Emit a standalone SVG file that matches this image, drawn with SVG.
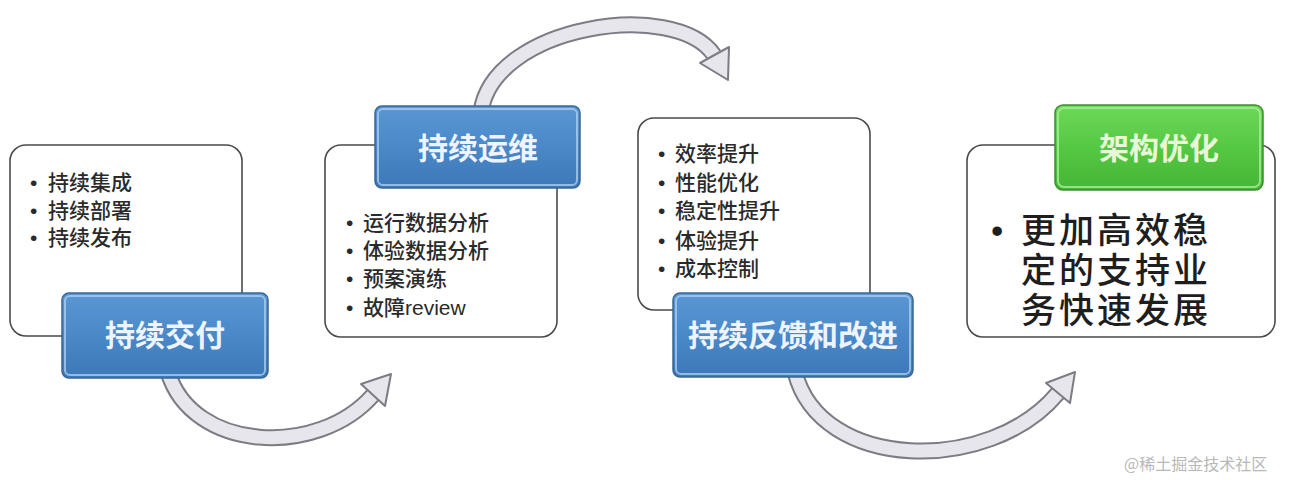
<svg xmlns="http://www.w3.org/2000/svg" width="1292" height="480" viewBox="0 0 1292 480">
  <defs>
    <linearGradient id="blueG" x1="0" y1="0" x2="0" y2="1">
      <stop offset="0" stop-color="#5a97d3"/>
      <stop offset="0.5" stop-color="#4a88c8"/>
      <stop offset="1" stop-color="#3d78b8"/>
    </linearGradient>
    <linearGradient id="greenG" x1="0" y1="0" x2="0" y2="1">
      <stop offset="0" stop-color="#6fd85a"/>
      <stop offset="0.5" stop-color="#55c843"/>
      <stop offset="1" stop-color="#45b535"/>
    </linearGradient>
  </defs>
  <style>
    .card { fill: #ffffff; stroke: #4a4a4a; stroke-width: 1.6; }
    .blue { fill: url(#blueG); stroke: #3a6795; stroke-width: 1.5; }
    .blueIn { fill: none; stroke: #a9cdf0; stroke-width: 2; opacity: 0.8; }
    .green { fill: url(#greenG); stroke: #3e8f30; stroke-width: 1.5; }
    .greenIn { fill: none; stroke: #a8ee98; stroke-width: 2; opacity: 0.8; }
    .head { font-family: "Noto Sans CJK SC", "Liberation Sans", sans-serif; font-size: 30px; font-weight: bold; fill: #eef4ff; text-anchor: middle; }
    .headG { font-family: "Noto Sans CJK SC", "Liberation Sans", sans-serif; font-size: 30px; font-weight: bold; fill: #e6f8d8; text-anchor: middle; }
    .item { font-family: "Liberation Sans", "Noto Sans CJK SC", sans-serif; font-size: 21px; font-weight: 500; fill: #2a2a2a; }
    .big { font-family: "Liberation Sans", "Noto Sans CJK SC", sans-serif; font-size: 35px; letter-spacing: 3px; font-weight: 500; fill: #1e1e1e; }
    .band-o { fill: none; stroke: #7c7c84; stroke-width: 17; }
    .band-i { fill: none; stroke: #e6e6ec; stroke-width: 13; }
    .head-a { fill: #e6e6ec; stroke: #7c7c84; stroke-width: 2; stroke-linejoin: round; }
    .wm { font-family: "Noto Sans CJK SC", "Liberation Sans", sans-serif; font-size: 16px; fill: #b8b8b8; }
  </style>

  <g id="connectors">
    <g id="arrow1">
      <path class="band-o" d="M168,372 C192,452 318,458 373,395"/>
      <path class="band-i" d="M168,372 C192,452 318,458 373,395"/>
      <polygon class="head-a" points="361,384 391,374 385,406"/>
    </g>
    <g id="arrow2">
      <path class="band-o" d="M481,112 C493,25 675,-2 714,55"/>
      <path class="band-i" d="M481,112 C493,25 675,-2 714,55"/>
      <polygon class="head-a" points="700,63 729,47 728,80"/>
    </g>
    <g id="arrow3">
      <path class="band-o" d="M795,372 C820,472 990,475 1058,393"/>
      <path class="band-i" d="M795,372 C820,472 990,475 1058,393"/>
      <polygon class="head-a" points="1046,383 1075,372 1070,403"/>
    </g>
  </g>

  <g id="node-delivery">
    <rect class="card" x="10" y="145" width="232" height="191" rx="16"/>
    <text class="item"><tspan x="30" y="190">•</tspan><tspan x="48" y="190">持续集成</tspan><tspan x="30" y="218">•</tspan><tspan x="48" y="218">持续部署</tspan><tspan x="30" y="245">•</tspan><tspan x="48" y="245">持续发布</tspan></text>
    <rect class="blue" x="62" y="293" width="206" height="85" rx="7"/>
    <rect class="blueIn" x="65" y="296" width="200" height="79" rx="5"/>
    <text class="head" x="165" y="346">持续交付</text>
  </g>

  <g id="node-ops">
    <rect class="card" x="325" y="145" width="232" height="192" rx="16"/>
    <rect class="blue" x="375" y="106" width="205" height="82" rx="7"/>
    <rect class="blueIn" x="378" y="109" width="199" height="76" rx="5"/>
    <text class="head" x="478" y="159">持续运维</text>
    <text class="item"><tspan x="346" y="230">•</tspan><tspan x="363" y="230">运行数据分析</tspan><tspan x="346" y="258">•</tspan><tspan x="363" y="258">体验数据分析</tspan><tspan x="346" y="286">•</tspan><tspan x="363" y="286">预案演练</tspan><tspan x="346" y="315">•</tspan><tspan x="363" y="315">故障review</tspan></text>
  </g>

  <g id="node-feedback">
    <rect class="card" x="638" y="118" width="232" height="192" rx="16"/>
    <text class="item"><tspan x="658" y="161">•</tspan><tspan x="675" y="161">效率提升</tspan><tspan x="658" y="190">•</tspan><tspan x="675" y="190">性能优化</tspan><tspan x="658" y="218">•</tspan><tspan x="675" y="218">稳定性提升</tspan><tspan x="658" y="248">•</tspan><tspan x="675" y="248">体验提升</tspan><tspan x="658" y="276">•</tspan><tspan x="675" y="276">成本控制</tspan></text>
    <rect class="blue" x="673" y="293" width="240" height="84" rx="7"/>
    <rect class="blueIn" x="676" y="296" width="234" height="78" rx="5"/>
    <text class="head" x="793" y="346">持续反馈和改进</text>
  </g>

  <g id="node-arch">
    <rect class="card" x="967" y="145" width="308" height="192" rx="16"/>
    <rect class="green" x="1055" y="105" width="208" height="85" rx="8"/>
    <rect class="greenIn" x="1058" y="108" width="202" height="79" rx="6"/>
    <text class="headG" x="1159" y="159">架构优化</text>
    <text class="big"><tspan x="991" y="243">•</tspan><tspan x="1021" y="243">更加高效稳</tspan><tspan x="1021" y="283">定的支持业</tspan><tspan x="1021" y="323">务快速发展</tspan></text>
  </g>

  <text class="wm" x="1124" y="470">@稀土掘金技术社区</text>
</svg>
